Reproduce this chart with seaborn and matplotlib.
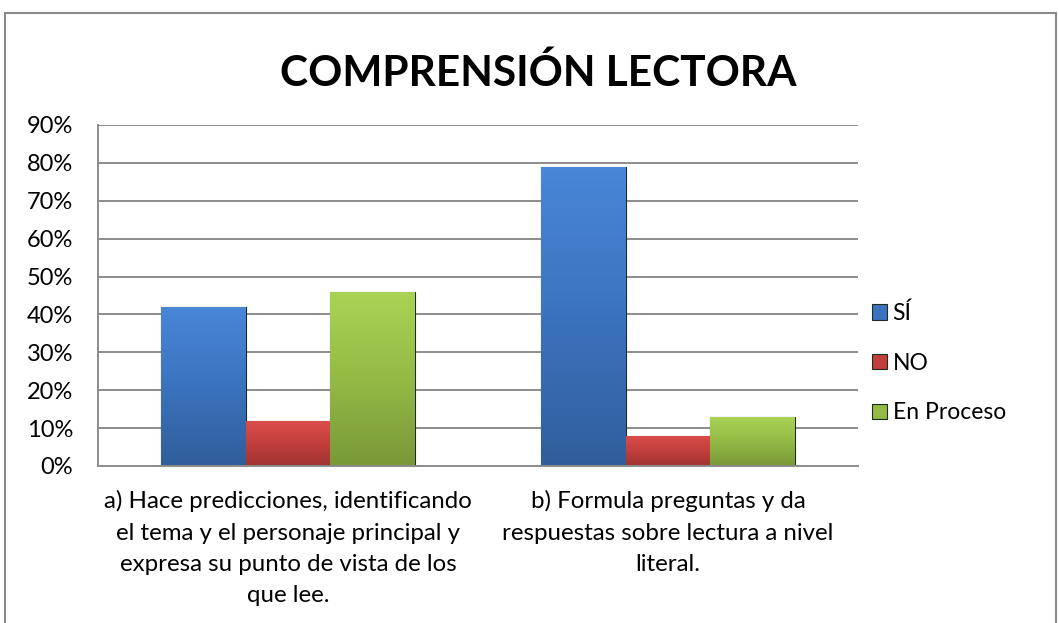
import numpy as np
import pandas as pd
import seaborn as sns
import matplotlib.pyplot as plt
from matplotlib.patches import Rectangle
from matplotlib.colors import LinearSegmentedColormap, to_rgb
from matplotlib.ticker import PercentFormatter

# datos
categorias = ['a) Hace predicciones, identificando\nel tema y el personaje principal y\nexpresa su punto de vista de los\nque lee.',
              'b) Formula preguntas y da\nrespuestas sobre lectura a nivel\nliteral.']
series = ['SÍ', 'NO', 'En Proceso']
si = [0.42, 0.79]
no = [0.12, 0.08]
en_proceso = [0.46, 0.13]

colores = ['#3B73BE', '#C23F3D', '#94BA45']

df = pd.DataFrame({
    'categoria': categorias * 3,
    'respuesta': [s for s in series for _ in categorias],
    'valor': si + no + en_proceso,
})

sns.set_style("white")
plt.rcParams['font.family'] = ['Lato', 'DejaVu Sans']
plt.rcParams['text.color'] = 'black'
plt.rcParams['xtick.color'] = 'black'
plt.rcParams['ytick.color'] = 'black'

fig = plt.figure(figsize=(10.59, 6.23), dpi=100)
ax = fig.add_axes([98 / 1059, 1 - 466 / 623, 760 / 1059, 341 / 623])

sns.barplot(data=df, x='categoria', y='valor', hue='respuesta',
            hue_order=series, palette=colores, saturation=1,
            width=0.67, gap=0, edgecolor='#1f2a1f', linewidth=0.8, ax=ax)

# degradado suave en cada barra (claro arriba, oscuro abajo)
for patch in list(ax.patches):
    w, h = patch.get_width(), patch.get_height()
    if h <= 0:
        continue
    x0, y0 = patch.get_x(), patch.get_y()
    base = np.array(to_rgb(patch.get_facecolor()))
    cmap = LinearSegmentedColormap.from_list(
        'g', [np.clip(base * 0.82, 0, 1), base, np.clip(base * 1.08 + 0.04, 0, 1)])
    grad = np.linspace(0, 1, 100).reshape(-1, 1)
    im = ax.imshow(grad, cmap=cmap, aspect='auto', origin='lower',
                   extent=(x0, x0 + w, y0, y0 + h), zorder=patch.get_zorder())
    im.set_clip_path(patch)

ax.set_ylim(0, 0.9)
ax.set_xlim(-0.5, 1.5)
ax.set_yticks([i / 10 for i in range(10)])
ax.yaxis.set_major_formatter(PercentFormatter(1.0, decimals=0))
ax.yaxis.grid(True, color='#8c8c8c', linewidth=1.4)
ax.set_axisbelow(True)
ax.set_xlabel('')
ax.set_ylabel('')

for s in ['top', 'right']:
    ax.spines[s].set_visible(False)
for s in ['left', 'bottom']:
    ax.spines[s].set_color('#8c8c8c')
    ax.spines[s].set_linewidth(1.4)

ax.tick_params(axis='y', length=0, pad=18, labelsize=17)
ax.tick_params(axis='x', length=0, pad=17.5, labelsize=17.3)
for t in ax.get_xticklabels():
    t.set_linespacing(1.6)
    t.set_ha('center')

fig.text(0.508, 0.882, 'COMPRENSIÓN LECTORA', ha='center', va='center',
         fontsize=30.5, fontweight='bold')

leg = ax.legend(loc='center left', bbox_to_anchor=(872 / 1059, 1 - 363 / 623),
                bbox_transform=fig.transFigure, frameon=False, fontsize=16.5,
                handlelength=0.65, handleheight=0.65, handletextpad=0.25,
                labelspacing=1.25, borderaxespad=0, borderpad=0)

# marco del grafico
fig.patches.append(Rectangle((5 / 1059, -0.05), 1051 / 1059, 1.05 - 13 / 623,
                             transform=fig.transFigure, fill=False,
                             edgecolor='#8a8a8a', linewidth=1.5))

fig.savefig('out.png', dpi=100)
